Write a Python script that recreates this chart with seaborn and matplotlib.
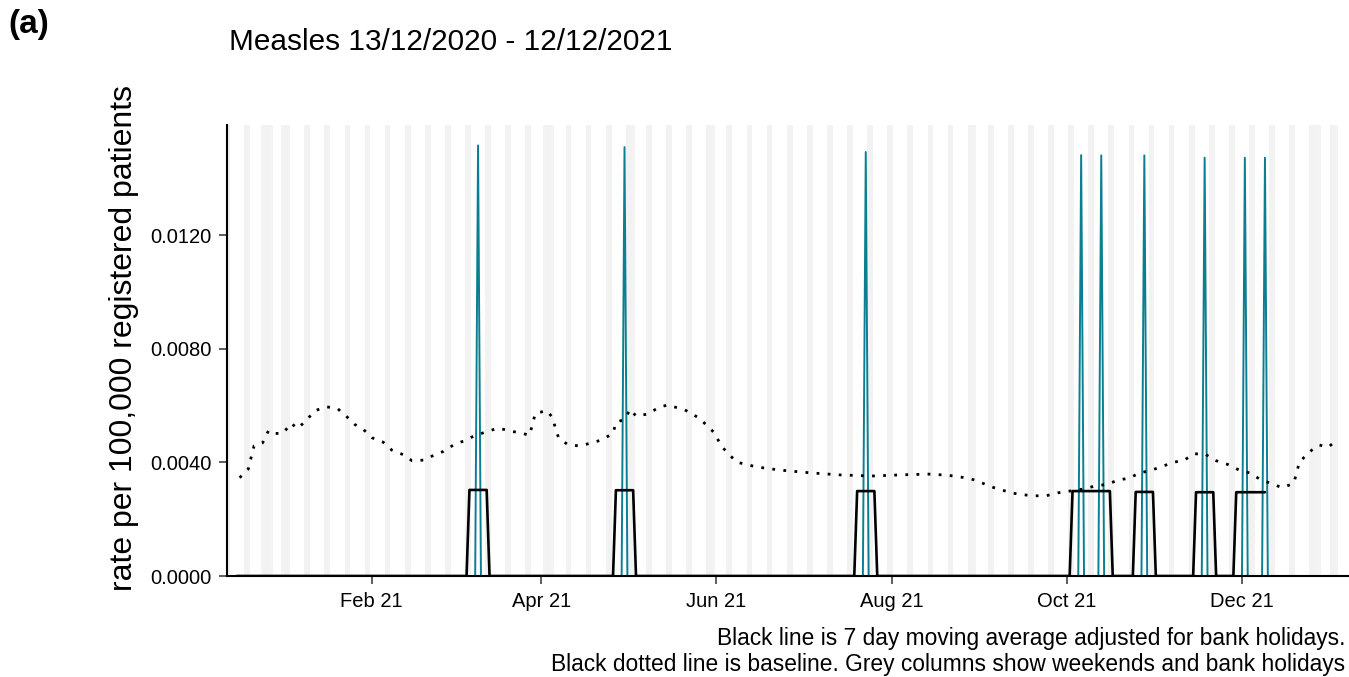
import pandas as pd
import numpy as np
import seaborn as sns
import matplotlib.pyplot as plt
import matplotlib.dates as mdates

# --- daily rate: one-day spikes, zero every other day ---
data_start = "2020-12-13"
data_end = "2021-12-12"
spike_dates = ["2021-03-10", "2021-04-30", "2021-07-23", "2021-10-06", "2021-10-13",
               "2021-10-28", "2021-11-18", "2021-12-02", "2021-12-09"]
spike_rates = [0.01516, 0.01510, 0.01493, 0.01482, 0.01481,
               0.01481, 0.01473, 0.01473, 0.01473]

# --- 7 day moving average (centred, so it stops 3 days before each end) ---
ma_first = "2020-12-16"
ma_last = "2021-12-09"
ma_starts = ["2021-03-07", "2021-04-27", "2021-07-20", "2021-10-03",
             "2021-10-25", "2021-11-15", "2021-11-29"]
ma_ends = ["2021-03-13", "2021-05-03", "2021-07-26", "2021-10-16",
           "2021-10-31", "2021-11-21", "2021-12-09"]
ma_values = [0.00303, 0.00302, 0.00299, 0.00299, 0.00296, 0.00295, 0.00295]

# --- baseline (dotted) ---
baseline_dates = [
    "2020-12-17", "2020-12-20", "2020-12-21", "2020-12-22", "2020-12-25", "2020-12-27",
    "2020-12-28", "2021-01-01", "2021-01-04", "2021-01-06", "2021-01-09", "2021-01-12",
    "2021-01-16", "2021-01-20", "2021-01-23", "2021-01-26", "2021-01-29", "2021-02-01",
    "2021-02-05", "2021-02-08", "2021-02-12", "2021-02-15", "2021-02-19", "2021-02-23",
    "2021-02-26", "2021-03-02", "2021-03-05", "2021-03-09", "2021-03-13", "2021-03-17",
    "2021-03-21", "2021-03-24", "2021-03-28", "2021-03-29", "2021-03-30", "2021-04-03",
    "2021-04-05", "2021-04-06", "2021-04-07", "2021-04-10", "2021-04-14", "2021-04-18",
    "2021-04-22", "2021-04-26", "2021-04-27", "2021-04-30", "2021-05-02", "2021-05-04",
    "2021-05-08", "2021-05-12", "2021-05-15", "2021-05-21", "2021-05-26", "2021-05-31",
    "2021-06-03", "2021-06-08", "2021-06-15", "2021-06-23", "2021-07-04", "2021-07-14",
    "2021-07-25", "2021-08-04", "2021-08-15", "2021-08-23", "2021-08-27", "2021-08-30",
    "2021-09-05", "2021-09-12", "2021-09-19", "2021-09-24", "2021-09-28", "2021-10-06",
    "2021-10-11", "2021-10-15", "2021-10-19", "2021-10-23", "2021-10-26", "2021-10-30",
    "2021-11-03", "2021-11-07", "2021-11-11", "2021-11-14", "2021-11-18", "2021-11-22",
    "2021-11-26", "2021-11-30", "2021-12-04", "2021-12-07", "2021-12-11", "2021-12-15",
    "2021-12-19", "2021-12-20", "2021-12-21", "2021-12-26", "2021-12-28", "2021-12-31",
    "2022-01-03"]
baseline_values = [
    0.00346, 0.00377, 0.00418, 0.00458, 0.00469, 0.00511,
    0.00502, 0.00502, 0.00538, 0.00519, 0.00545, 0.00581,
    0.00596, 0.00590, 0.00564, 0.00534, 0.00517, 0.00487,
    0.00471, 0.00443, 0.00427, 0.00406, 0.00408, 0.00427,
    0.00439, 0.00465, 0.00475, 0.00495, 0.00508, 0.00521,
    0.00511, 0.00505, 0.00496, 0.00538, 0.00573, 0.00582,
    0.00557, 0.00517, 0.00488, 0.00464, 0.00458, 0.00467,
    0.00479, 0.00502, 0.00540, 0.00552, 0.00587, 0.00563,
    0.00570, 0.00594, 0.00602, 0.00585, 0.00556, 0.00507,
    0.00454, 0.00401, 0.00384, 0.00373, 0.00363, 0.00356,
    0.00352, 0.00356, 0.00359, 0.00352, 0.00345, 0.00338,
    0.00313, 0.00292, 0.00282, 0.00283, 0.00293, 0.00305,
    0.00317, 0.00323, 0.00338, 0.00345, 0.00362, 0.00371,
    0.00385, 0.00400, 0.00408, 0.00430, 0.00430, 0.00406,
    0.00393, 0.00373, 0.00362, 0.00342, 0.00326, 0.00311,
    0.00326, 0.00362, 0.00402, 0.00450, 0.00461, 0.00453,
    0.00479]

bank_holidays = ["2020-12-25", "2020-12-28", "2021-01-01", "2021-04-02", "2021-04-05",
                 "2021-05-03", "2021-05-31", "2021-08-30", "2021-12-27", "2021-12-28",
                 "2022-01-03"]

x_left = pd.Timestamp("2020-12-12 14:00")
x_right = pd.Timestamp("2022-01-06 22:00")
tick_dates = ["2021-02-01", "2021-04-01", "2021-06-01", "2021-08-01", "2021-10-01", "2021-12-01"]
y_ticks = [0.0, 0.004, 0.008, 0.012]

# build the tables
daily = pd.DataFrame({"date": pd.date_range(data_start, data_end)})
daily["rate"] = 0.0
daily.loc[daily["date"].isin(pd.to_datetime(spike_dates)), "rate"] = spike_rates

ma = pd.DataFrame({"date": pd.date_range(ma_first, ma_last)})
ma["value"] = 0.0
for s, e, v in zip(ma_starts, ma_ends, ma_values):
    ma.loc[(ma["date"] >= s) & (ma["date"] <= e), "value"] = v

base = pd.DataFrame({"date": pd.to_datetime(baseline_dates), "value": baseline_values})

sns.set_theme(style="white")
plt.rcParams["font.family"] = ["Liberation Sans", "DejaVu Sans"]
plt.rcParams["text.color"] = "black"

fig = plt.figure(figsize=(13.49, 6.77), dpi=100)
ax = fig.add_axes([227 / 1349, 1 - 576 / 677, 1121 / 1349, 451 / 677])

# grey columns: weekends and bank holidays
half = pd.Timedelta(hours=12)
all_days = pd.date_range("2020-12-12", "2022-01-07")
for d in all_days[all_days.dayofweek >= 5]:
    ax.axvspan(d - half, d + half, color="#808080", alpha=0.10, lw=0, zorder=0)
for d in pd.to_datetime(bank_holidays):
    ax.axvspan(d - half, d + half, color="#808080", alpha=0.09, lw=0, zorder=0)

sns.lineplot(data=daily, x="date", y="rate", ax=ax, color="#0b7f91", linewidth=1.4, zorder=2)
sns.lineplot(data=ma, x="date", y="value", ax=ax, color="black", linewidth=1.9, zorder=3)
sns.lineplot(data=base, x="date", y="value", ax=ax, color="black", linewidth=2.0,
             linestyle=(0, (1, 3)), zorder=4)

ax.set_xlim(x_left, x_right)
ax.set_ylim(0, 0.01588)
ax.set_xticks(pd.to_datetime(tick_dates))
ax.xaxis.set_major_formatter(mdates.DateFormatter("%b %y"))
ax.set_yticks(y_ticks)
ax.set_yticklabels([f"{v:.4f}" for v in y_ticks])
ax.set_xlabel("")
ax.set_ylabel("")

for side in ["top", "right"]:
    ax.spines[side].set_visible(False)
for side in ["left", "bottom"]:
    ax.spines[side].set_color("black")
    ax.spines[side].set_linewidth(1.5)
    ax.spines[side].set_zorder(5)
ax.tick_params(axis="both", length=5.8, width=1.1, color="#333333", pad=5.5,
               labelsize=14.5, labelcolor="black", bottom=True, left=True)

fig.text(124 / 1349, 1 - 338 / 677, "rate per 100,000 registered patients", rotation=90,
         ha="center", va="center", fontsize=23)
fig.text(229 / 1349, 1 - 42 / 677, "Measles 13/12/2020 - 12/12/2021", ha="left", va="center",
         fontsize=21.4)
fig.text(8 / 1349, 1 - 25 / 677, "(a)", ha="left", va="center", fontsize=24, fontweight="bold")
fig.text(1345 / 1349, 1 - 638 / 677, "Black line is 7 day moving average adjusted for bank holidays.",
         ha="right", va="center", fontsize=16.4)
fig.text(1345 / 1349, 1 - 664 / 677,
         "Black dotted line is baseline. Grey columns show weekends and bank holidays",
         ha="right", va="center", fontsize=16.4)

fig.savefig("out.png", dpi=100)
